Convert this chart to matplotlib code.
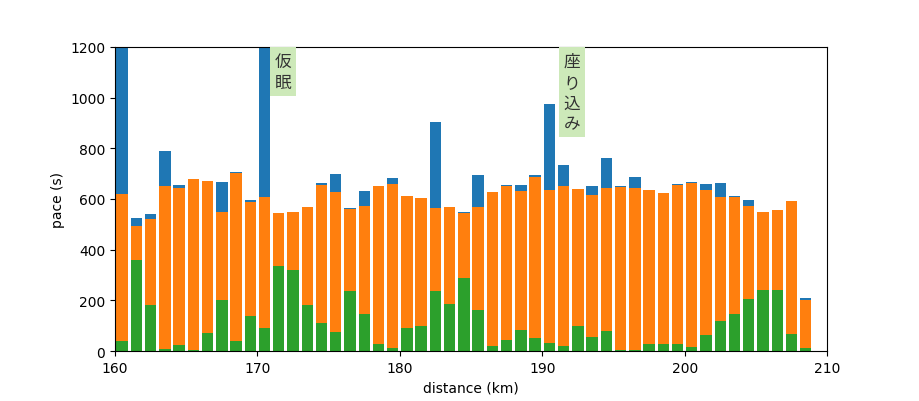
import matplotlib.pyplot as plt

plt.rcParams['font.family'] = ['DejaVu Sans', 'Noto Sans CJK JP']

# distance marks (km), one bar per km
distance = [160.5 + i for i in range(49)]

# total pace per km (s)  -- blue
total = [1450, 525, 541, 789, 655, 679, 671, 667, 707, 596,
         2500, 545, 549, 568, 663, 699, 564, 631, 653, 683,
         612, 604, 904, 568, 549, 695, 628, 655, 655, 695,
         975, 734, 639, 651, 762, 651, 687, 635, 624, 659,
         667, 659, 663, 612, 596, 549, 557, 592, 209]

# moving pace (s)  -- orange
moving = [620, 493, 521, 651, 643, 679, 671, 549, 703, 588,
          608, 545, 549, 568, 655, 628, 560, 573, 653, 659,
          612, 604, 564, 568, 545, 568, 628, 651, 631, 687,
          635, 651, 639, 616, 643, 647, 643, 635, 624, 655,
          663, 635, 608, 608, 572, 549, 557, 592, 201]

# walking part (s)  -- green
walking = [39, 359, 182, 8, 24, 3, 71, 201, 39, 138,
           91, 336, 320, 182, 111, 75, 238, 146, 28, 12,
           91, 99, 238, 185, 288, 162, 20, 43, 83, 51,
           32, 20, 99, 55, 79, 3, 3, 28, 28, 28,
           16, 63, 118, 146, 205, 241, 241, 67, 12]

notes = [(171.8, '仮\n眠'), (192.1, '座\nり\n込\nみ')]

fig, ax = plt.subplots(figsize=(9.2, 4.02), dpi=100)
fig.subplots_adjust(left=0.125, right=0.899, top=0.881, bottom=0.124)

ax.bar(distance, total, width=0.8, color='tab:blue')
ax.bar(distance, moving, width=0.8, color='tab:orange')
ax.bar(distance, walking, width=0.8, color='tab:green')

for x, label in notes:
    ax.text(x, 1180, label, ha='center', va='top', fontsize=12,
            color='#333333', linespacing=1.2,
            bbox=dict(boxstyle='square,pad=0.3', facecolor='#cde9b9',
                      edgecolor='none'))

ax.set_xlim(160, 210)
ax.set_ylim(0, 1200)
ax.set_xlabel('distance (km)')
ax.set_ylabel('pace (s)')

fig.savefig('out.png')
